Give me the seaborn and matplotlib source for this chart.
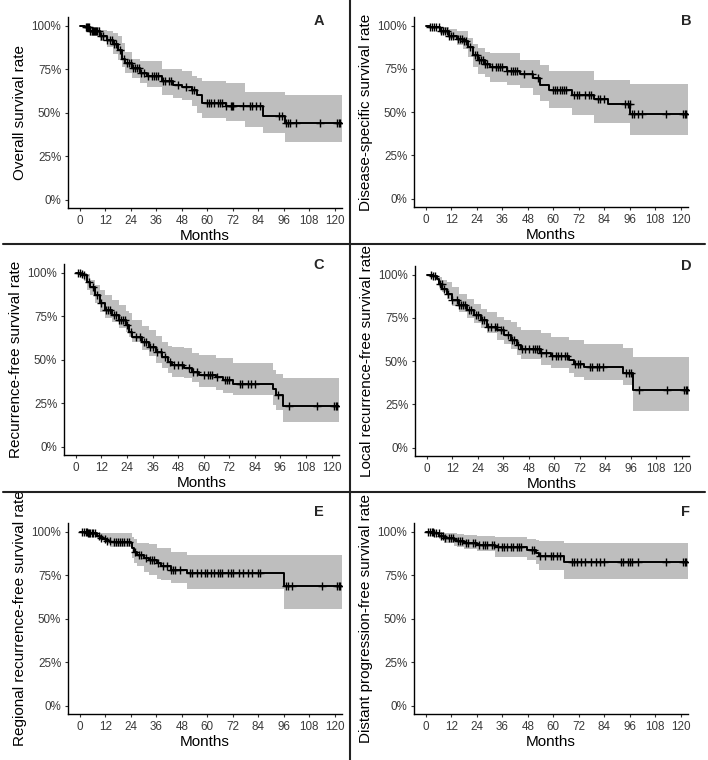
"""
Kaplan-Meier style survival curves (six panels, A-F)
with 95% confidence bands and censoring marks.
"""

import numpy as np
import seaborn as sns
import matplotlib.pyplot as plt
from matplotlib.lines import Line2D

# -------------------------------
# Data (percent values)
# -------------------------------
END_MONTH = 123.5
MONTH_TICKS = list(range(0, 121, 12))
RATE_TICKS = [0, 0.25, 0.5, 0.75, 1.0]
RATE_LABELS = ["0%", "25%", "50%", "75%", "100%"]

# A - overall survival
a_time = [0, 2.5, 5, 9.5, 12.7, 15.8, 18, 20, 21.3, 24.5, 28.4, 31.5, 38.9, 44, 48, 52.7, 55, 57.7, 69, 78, 86.4, 96.6]
a_surv = [100, 99, 96.7, 94, 92, 89.5, 86, 81, 78.5, 75.7, 72.8, 71, 68, 66, 65, 63, 60, 55.6, 54, 53.6, 48.3, 44]
a_lower = [100, 99, 94, 91, 88, 84, 80, 76, 73, 70, 67, 65, 60, 58.5, 57, 54, 50, 47, 45, 42, 38.3, 33]
a_upper = [100, 100, 99, 97.5, 97, 96, 94, 90, 85, 81, 79.5, 79.5, 75, 75, 74, 71, 70, 68, 67, 62, 62, 60]
a_cens = [3, 3.5, 4, 4.5, 5, 5.5, 6, 6.5, 7, 7.5, 8, 9, 10, 11, 13, 14, 15, 16, 17, 19, 21, 22, 23, 24, 25,
          26, 27, 28, 29, 30, 32, 34, 35, 36, 37, 39, 40, 42, 43, 46, 50, 53, 54, 60, 61, 62, 63, 65, 66, 67,
          69, 71, 71.5, 72, 77, 80, 81, 83, 85, 94, 95, 97, 98, 99, 102, 113, 121, 122, 122.5]

# B - disease-specific survival
b_time = [0, 2, 6.6, 11, 14.5, 17.6, 20, 22.4, 24.7, 27.9, 30.2, 38, 44.4, 50.7, 54, 57.8, 68.8, 79, 86, 96.4]
b_surv = [100, 99, 97, 94.3, 92, 91, 87.6, 83, 80, 77.6, 76, 73.8, 72, 70, 65.6, 62.7, 60.2, 57.5, 54.5, 49]
b_lower = [100, 99, 95, 92, 89, 86.6, 82, 76, 72, 70.4, 67.5, 65.6, 63.7, 60, 56.4, 52.6, 48.4, 43.6, 43.6, 36.9]
b_upper = [100, 100, 99.5, 98, 97, 97, 93, 89.5, 87, 85, 84, 84, 80, 80, 77, 73.6, 73.6, 68.8, 68.8, 66.5]
b_cens = [2, 3, 4, 5, 6, 7, 8, 9, 10, 11, 12, 13, 15, 16, 17, 18, 19, 21, 23, 24, 25, 26, 27, 28, 29, 31,
          33, 34, 35, 36, 38, 40, 41, 42, 43, 46, 50, 53, 60, 61, 62, 63, 64, 65, 66, 70, 71, 72, 75, 77, 78,
          81, 82, 84, 94, 95, 96, 97, 98, 100, 102, 113, 121, 122, 122.5]

# C - recurrence-free survival
c_time = [0, 2.5, 3.6, 5.2, 6.8, 9.1, 11.5, 13.8, 17, 20, 23.3, 24.9, 26.4, 31, 34.3, 37.4, 40.6, 43, 45.3,
          50.8, 54.7, 57.9, 65.7, 68.9, 73.6, 92.5, 94, 97]
c_surv = [100, 99.5, 98.7, 94.8, 92, 87, 82.4, 78.5, 75.7, 72.8, 70, 66, 62.8, 60.3, 57.5, 54.6, 51.7, 48.8,
          47, 45, 43.1, 41, 39.8, 38.3, 36, 33, 29.7, 23.6]
c_lower = [100, 99, 95, 90, 87, 82.4, 77.6, 74, 71.8, 68, 66, 63, 60.3, 55.6, 52, 48, 45, 42.1, 40, 39.3,
           37, 34.5, 32.6, 31, 29.7, 24, 21, 14.4]
c_upper = [100, 100, 100, 99, 96, 93, 90, 87.2, 84.3, 81.4, 78, 76.6, 72.8, 69.3, 67, 63.6, 60.3, 58, 57.5,
           56.5, 54, 52.7, 50.8, 50.8, 47.9, 44, 42, 39.7]
c_cens = [1, 2, 3, 4, 6, 8, 10, 12, 14, 15, 16, 18, 19, 20, 21, 22, 23, 24, 26, 28, 30, 32, 33, 35, 36, 38,
          40, 42, 44, 46, 48, 50, 53, 55, 57, 60, 62, 63, 64, 66, 70, 71, 72, 77, 78, 81, 82, 84, 95, 100,
          113, 121, 122, 122.5]

# D - local recurrence-free survival
d_time = [0, 3, 4.7, 5.5, 7.1, 9.5, 11.8, 15, 19, 22, 25.3, 28.4, 33.2, 36.3, 39.5, 42.6, 44.2, 53.7, 58.4,
          67.1, 69.5, 74.2, 92.4, 97]
d_surv = [100, 99.5, 97.5, 94.6, 91.8, 88.9, 85.5, 82.2, 79.3, 76.9, 73.6, 70, 67.9, 65, 62.1, 59.3, 57,
          54.5, 53, 50.7, 48.4, 46.8, 43, 33.5]
d_lower = [100, 99, 96.6, 92.7, 90, 86, 82, 78.5, 75, 72, 69, 66, 62.1, 60, 57, 53.5, 51, 47.8, 45.9, 43,
           41, 39.2, 36.3, 21.4]
d_upper = [100, 100, 99.5, 98.5, 97, 95.6, 93, 89, 86, 83, 80, 78.4, 75.5, 74, 72.7, 69.5, 67.9, 66.3, 64,
           62.5, 62.5, 59.8, 57.4, 52.6]
d_cens = [2, 3, 4, 6, 7, 8, 10, 12, 14, 15, 16, 17, 18, 20, 21, 23, 24, 26, 27, 29, 30, 32, 33, 35, 36, 38,
          40, 41, 43, 45, 46, 48, 50, 51, 52, 53, 54, 56, 59, 61, 62, 63, 65, 66, 70, 71, 72, 77, 78, 80, 81,
          83, 94, 95, 96, 100, 113, 121, 122, 122.5]

# E - regional recurrence-free survival
e_time = [0, 4, 4.9, 8, 9.6, 11.2, 12.8, 14.4, 24, 24.6, 25.7, 27, 30.1, 32.5, 36.4, 38, 42.7, 50.6, 96]
e_surv = [100, 99.5, 99, 97.5, 96.6, 95.8, 94.8, 94, 93.5, 90.4, 88.5, 86.6, 84.7, 83.7, 81.8, 80, 78, 76, 69]
e_lower = [100, 99, 98, 96.5, 95.5, 94.3, 93, 91.4, 90.4, 84.7, 82, 80, 77, 75, 73, 72.2, 70.3, 66.8, 55.3]
e_upper = [100, 100, 100, 99.5, 99, 99, 99, 99, 99, 96.7, 96, 93.3, 93.3, 93, 90.4, 90.4, 88.5, 86.6, 86.6]
e_cens = [1, 2, 3, 3.5, 4, 4.5, 5, 5.5, 6, 7, 9, 10, 12, 13, 14, 16, 17, 18, 19, 20, 21, 22, 23, 26, 28, 29,
          31, 33, 34, 35, 37, 39, 41, 43, 44, 45, 47, 52, 53, 55, 57, 59, 60, 62, 63, 65, 66, 67, 70, 71, 72,
          75, 77, 79, 81, 84, 85, 97, 98, 100, 114, 121, 122, 122.5]

# F - distant progression-free survival
f_time = [0, 4, 4.6, 6.1, 8.5, 13.2, 14.8, 17.9, 24.2, 32.8, 47.7, 51.7, 53.2, 65]
f_surv = [100, 99.5, 99, 97.5, 96.2, 95.2, 94.6, 93.7, 92.5, 91.4, 89.5, 87.5, 86, 82.3]
f_lower = [100, 99, 98, 95.6, 93.7, 92, 91, 90, 89, 85.2, 84, 81.3, 78, 72.6]
f_upper = [100, 100, 99.8, 99.6, 99.3, 99, 98.5, 98, 97.7, 96.7, 95.6, 95, 94.8, 93.7]
f_cens = [1, 2, 3, 3.5, 4, 5, 6, 7, 8, 9, 11, 12, 13, 15, 16, 17, 19, 20, 22, 23, 25, 27, 28, 29, 31, 32,
          34, 36, 37, 38, 40, 41, 43, 44, 45, 50, 51, 54, 56, 59, 60, 62, 63, 69, 70, 71, 73, 75, 78, 80, 82,
          84, 92, 93, 95, 96, 97, 100, 113, 121, 122, 122.5]

panels = [
    ("A", "Overall survival rate", a_time, a_surv, a_lower, a_upper, a_cens),
    ("B", "Disease-specific survival rate", b_time, b_surv, b_lower, b_upper, b_cens),
    ("C", "Recurrence-free survival rate", c_time, c_surv, c_lower, c_upper, c_cens),
    ("D", "Local recurrence-free survival rate", d_time, d_surv, d_lower, d_upper, d_cens),
    ("E", "Regional recurrence-free survival rate", e_time, e_surv, e_lower, e_upper, e_cens),
    ("F", "Distant progression-free survival rate", f_time, f_surv, f_lower, f_upper, f_cens),
]

# axes boxes in pixels (left, top, right, bottom) and panel-letter positions
W, H = 708, 760
boxes = [(68, 17, 342, 208), (414, 17, 688, 207),
         (64, 264, 339, 455), (415, 266, 689, 456),
         (68, 523, 342, 714), (414, 523, 688, 714)]
letter_pos = [(319, 21), (686, 21), (319, 265), (686, 266), (319, 512), (686, 512)]


def step_at(times, values, t):
    idx = np.searchsorted(times, t, side="right") - 1
    return np.asarray(values)[idx]


sns.set_theme(style="ticks")
plt.rcParams["font.family"] = ["Liberation Sans", "DejaVu Sans"]

fig = plt.figure(figsize=(W / 100, H / 100), dpi=100)

for (letter, ylabel, t, s, lo, hi, cens), (l, tp, r, b), (lx, ly) in zip(panels, boxes, letter_pos):
    ax = fig.add_axes([l / W, 1 - b / H, (r - l) / W, (b - tp) / H])

    tt = list(t) + [END_MONTH]
    ss = np.array(list(s) + [s[-1]]) / 100
    ll = np.array(list(lo) + [lo[-1]]) / 100
    hh = np.array(list(hi) + [hi[-1]]) / 100

    ax.fill_between(tt, ll, hh, step="post", color="#bebebe", linewidth=0)
    sns.lineplot(x=tt, y=ss, drawstyle="steps-post", color="black", linewidth=1.4,
                 estimator=None, ax=ax)
    cens_y = step_at(t, s, cens) / 100
    sns.scatterplot(x=cens, y=cens_y, marker="+", color="black", s=40, linewidth=1.0, ax=ax)

    ax.set_xlim(-5.6, END_MONTH)
    ax.set_ylim(-0.048, 1.05)
    ax.set_xticks(MONTH_TICKS)
    ax.set_yticks(RATE_TICKS)
    ax.set_yticklabels(RATE_LABELS)
    ax.set_xlabel("Months", fontsize=11, color="black", labelpad=1.5)
    ax.set_ylabel(ylabel, fontsize=11, color="black", labelpad=3)
    ax.tick_params(axis="both", labelsize=8.4, colors="#3a3a3a", length=2.3, width=0.8, pad=2.6)
    ax.tick_params(axis="both", color="#333333")
    for side in ["top", "right"]:
        ax.spines[side].set_visible(False)
    for side in ["left", "bottom"]:
        ax.spines[side].set_color("black")
        ax.spines[side].set_linewidth(1.0)

    fig.text(lx / W, 1 - ly / H, letter, fontsize=10.5, fontweight="bold",
             ha="center", va="center")

# panel separators
fig.add_artist(Line2D([350 / W, 350 / W], [0, 1], color="#222222", linewidth=1.5))
for yy in [244, 492]:
    fig.add_artist(Line2D([0.004, 0.996], [1 - yy / H, 1 - yy / H], color="#222222", linewidth=1.5))

fig.savefig("out.png", dpi=100)
